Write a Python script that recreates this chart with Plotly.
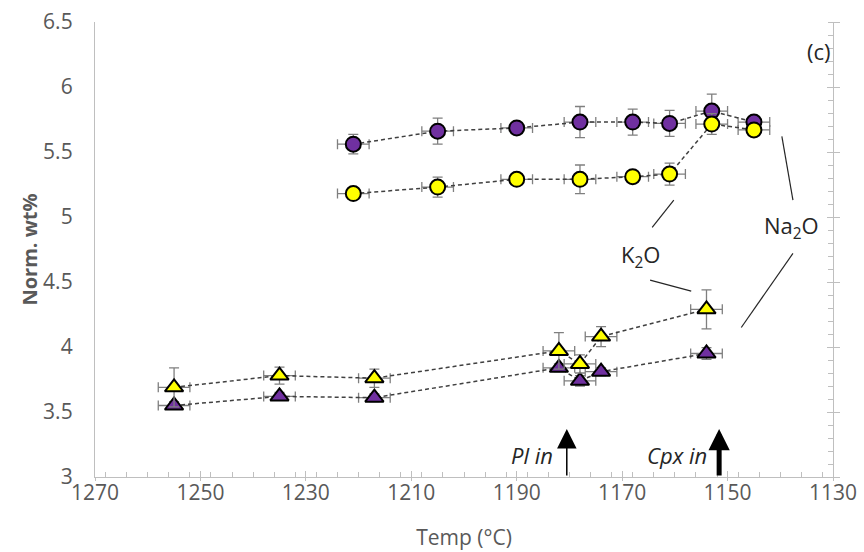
import plotly.graph_objects as go

# Experimental run temperatures (°C)
circ_temp = [1221, 1205, 1190, 1178, 1168, 1161, 1153, 1145]
tri_temp = [1255, 1235, 1217, 1182, 1178, 1174, 1154]

# Normalised oxide contents (wt%) - circles series
na2o_circ = [5.56, 5.66, 5.685, 5.73, 5.73, 5.72, 5.815, 5.73]
na2o_circ_err = [0.075, 0.1, 0.03, 0.12, 0.1, 0.1, 0.13, 0.04]
k2o_circ = [5.18, 5.23, 5.29, 5.29, 5.31, 5.33, 5.715, 5.67]
k2o_circ_err = [0.03, 0.077, 0.03, 0.11, 0.03, 0.085, 0.08, 0.03]

# Normalised oxide contents (wt%) - triangles series
na2o_tri = [3.55, 3.62, 3.61, 3.84, 3.74, 3.81, 3.95]
na2o_tri_err = [0.03, 0.03, 0.03, 0.03, 0.04, 0.03, 0.045]
k2o_tri = [3.69, 3.78, 3.76, 3.97, 3.87, 4.08, 4.29]
k2o_tri_err = [0.15, 0.065, 0.07, 0.14, 0.07, 0.077, 0.15]

temp_err = 3  # °C

# Phase appearance temperatures
phase_names = ["Pl in", "Cpx in"]
phase_temp = [1180.5, 1151.6]
phase_label_temp = [1187.1, 1159.6]
phase_width = [1.5, 5]

PURPLE = "#7030A0"
YELLOW = "#FFFF00"
GREY_TXT = "#595959"
AXIS = "#bfbfbf"
FONT = "Open Sans"

fig = go.Figure()


def add_series(x, y, yerr, color, symbol, size):
    fig.add_trace(go.Scatter(
        x=x, y=y, mode="lines+markers",
        line=dict(color="#404040", width=1.5, dash="4px,3px"),
        marker=dict(symbol=symbol, size=size, color=color,
                    line=dict(color="black", width=2)),
        error_x=dict(type="constant", value=temp_err, color="#7f7f7f",
                     thickness=1.3, width=5),
        error_y=dict(type="data", array=yerr, color="#7f7f7f",
                     thickness=1.3, width=5),
        showlegend=False, hoverinfo="x+y",
    ))


add_series(circ_temp, na2o_circ, na2o_circ_err, PURPLE, "circle", 15)
add_series(circ_temp, k2o_circ, k2o_circ_err, YELLOW, "circle", 15)
add_series(tri_temp, na2o_tri, na2o_tri_err, PURPLE, "triangle-up", 16)
add_series(tri_temp, k2o_tri, k2o_tri_err, YELLOW, "triangle-up", 16)

# Empty traces so the right-hand and extra tick axes are rendered
for xa, ya in (("x", "y2"), ("x", "y3"), ("x2", "y")):
    fig.add_trace(go.Scatter(x=[], y=[], xaxis=xa, yaxis=ya, showlegend=False,
                             hoverinfo="skip"))

# Leader lines from oxide labels to their series
leaders = [
    ((1164.3, 4.92), (1160.2, 5.13)),
    ((1164.7, 4.515), (1156.9, 4.43)),
    ((1139.7, 5.62), (1137.6, 5.13)),
    ((1137.6, 4.72), (1147.4, 4.15)),
]
for (x0, y0), (x1, y1) in leaders:
    fig.add_shape(type="line", x0=x0, y0=y0, x1=x1, y1=y1,
                  xref="x", yref="y", line=dict(color="#262626", width=1.2))

annos = [
    (1132.6, 6.28, "(c)", 22),
    (1166.6, 4.70, "K<sub>2</sub>O", 22),
    (1137.8, 4.92, "Na<sub>2</sub>O", 22),
]
for x, y, txt, sz in annos:
    fig.add_annotation(x=x, y=y, text=txt, xref="x", yref="y", showarrow=False,
                       xanchor="center", yanchor="middle",
                       font=dict(size=sz, color="#262626", family=FONT))

# Phase-in arrows with italic labels
for name, t, tl, w in zip(phase_names, phase_temp, phase_label_temp, phase_width):
    fig.add_annotation(x=t, y=3.37, ax=t, ay=3.0, xref="x", yref="y",
                       axref="x", ayref="y", text="", showarrow=True,
                       arrowhead=2, arrowsize=2.6 if w < 2 else 0.85,
                       arrowwidth=w, arrowcolor="black")
    fig.add_annotation(x=tl, y=3.17, xref="x", yref="y", text=f"<i>{name}</i>",
                       showarrow=False, xanchor="center", yanchor="middle",
                       font=dict(size=22, color="#262626", family=FONT))

fig.update_layout(
    width=864, height=552,
    margin=dict(l=95, r=31, t=22, b=75),
    paper_bgcolor="white", plot_bgcolor="white",
    font=dict(family=FONT, color=GREY_TXT),
    xaxis=dict(
        range=[1270, 1130], tickmode="linear", tick0=1130, dtick=20,
        automargin=False,
        showgrid=False, zeroline=False, showline=True, linecolor=AXIS, linewidth=1.3,
        ticks="outside", ticklen=3, tickcolor=AXIS, tickwidth=1.3, ticklabelstandoff=-6,
        minor=dict(ticks="inside", ticklen=5, dtick=4, tickcolor=AXIS, tickwidth=1.1, showgrid=False),
        tickfont=dict(size=21, color=GREY_TXT, family=FONT),
        title=dict(text="Temp (°C)", font=dict(size=21, color=GREY_TXT, family=FONT), standoff=24),
    ),
    yaxis=dict(
        range=[3, 6.5], tickmode="linear", tick0=3, dtick=0.5,
        automargin=False,
        showgrid=False, zeroline=False, showline=True, linecolor=AXIS, linewidth=1.3,
        ticks="", ticklabelstandoff=17,
        tickfont=dict(size=21, color=GREY_TXT, family=FONT),
        title=dict(text="<b>Norm. wt%</b>", font=dict(size=20, color=GREY_TXT, family=FONT), standoff=0),
    ),
    yaxis2=dict(
        overlaying="y", side="right", anchor="x", matches="y", range=[3, 6.5],
        tickmode="linear", tick0=3, dtick=0.5, showticklabels=False,
        showgrid=False, zeroline=False, showline=True, linecolor=AXIS, linewidth=1.3,
        ticks="outside", ticklen=6, tickcolor=AXIS, tickwidth=1.3,
        minor=dict(ticks="inside", ticklen=5, dtick=0.1, tickcolor=AXIS, tickwidth=1.1, showgrid=False),
    ),
    yaxis3=dict(
        overlaying="y", side="right", anchor="x", matches="y", range=[3, 6.5],
        tickmode="linear", tick0=3, dtick=0.5, showticklabels=False,
        showgrid=False, zeroline=False, showline=False,
        ticks="inside", ticklen=6, tickcolor=AXIS, tickwidth=1.3,
    ),
    xaxis2=dict(
        overlaying="x", side="bottom", anchor="y", matches="x", range=[1270, 1130],
        tickmode="linear", tick0=1130, dtick=20, showticklabels=False,
        showgrid=False, zeroline=False, showline=False,
        ticks="inside", ticklen=6, tickcolor=AXIS, tickwidth=1.3,
    ),
)

fig.write_html("out.html")
